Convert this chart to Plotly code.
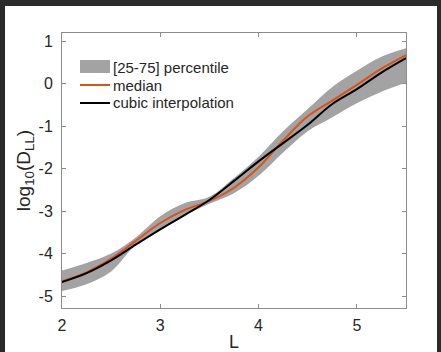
import plotly.graph_objects as go

# ---- data ----
L_vals = [2.0, 2.25, 2.5, 2.75, 3.0, 3.25, 3.5, 3.75, 4.0, 4.25, 4.5, 4.75, 5.0, 5.25, 5.5]
cubic = [-4.67, -4.46, -4.16, -3.79, -3.43, -3.09, -2.74, -2.29, -1.83, -1.40, -0.97, -0.48, -0.13, 0.26, 0.60]
median = [-4.65, -4.44, -4.12, -3.70, -3.28, -2.97, -2.76, -2.45, -1.97, -1.34, -0.77, -0.40, -0.03, 0.35, 0.67]
p75 = [-4.40, -4.22, -4.00, -3.62, -3.12, -2.81, -2.66, -2.22, -1.72, -1.12, -0.60, -0.08, 0.30, 0.63, 0.83]
p25 = [-4.88, -4.72, -4.42, -3.80, -3.45, -3.10, -2.83, -2.58, -2.17, -1.62, -1.12, -0.79, -0.46, -0.19, 0.02]

x_ticks = [2, 3, 4, 5]
x_ticklabels = ["2", "3", "4", "5"]
y_ticks = [-5, -4, -3, -2, -1, 0, 1]
y_ticklabels = ["-5", "-4", "-3", "-2", "-1", "0", "1"]
legend_labels = ["[25-75] percentile", "median", "cubic interpolation"]

BAND = "#a3a3a3"
ORANGE = "#D95319"
BLACK = "#000000"
AXIS = "#8c8c8c"
TXT = "#262626"
FONT = "Liberation Sans, Arial, sans-serif"

fig = go.Figure()
fig.add_trace(go.Scatter(x=L_vals, y=p25, mode="lines", line=dict(width=0, shape="spline", color=BAND),
                         showlegend=False, hoverinfo="skip"))
fig.add_trace(go.Scatter(x=L_vals, y=p75, mode="lines", line=dict(width=0, shape="spline", color=BAND),
                         fill="tonexty", fillcolor=BAND, showlegend=False, hoverinfo="skip"))
fig.add_trace(go.Scatter(x=L_vals, y=median, mode="lines", line=dict(width=2, shape="spline", color=ORANGE),
                         showlegend=False))
fig.add_trace(go.Scatter(x=L_vals, y=cubic, mode="lines", line=dict(width=2, shape="spline", color=BLACK),
                         showlegend=False))

# plot area: left 62, right 406, top 33, bottom 308 (441x352)
W, H = 441, 352
ml, mr, mt, mb = 62, 35, 33, 44
pw, ph = W - ml - mr, H - mt - mb

def px(x):
    return (x - ml) / pw

def py(y):
    return (H - mb - y) / ph

shapes = [
    # white page over dark border
    dict(type="rect", xref="paper", yref="paper", x0=px(5), x1=px(437), y0=py(370), y1=py(6),
         fillcolor="white", line=dict(width=0), layer="below"),
    # legend symbols
    dict(type="rect", xref="paper", yref="paper", x0=px(80), x1=px(110), y0=py(73), y1=py(60),
         fillcolor=BAND, line=dict(width=0)),
    dict(type="line", xref="paper", yref="paper", x0=px(80), x1=px(110), y0=py(85), y1=py(85),
         line=dict(color=ORANGE, width=2)),
    dict(type="line", xref="paper", yref="paper", x0=px(80), x1=px(110), y0=py(103), y1=py(103),
         line=dict(color=BLACK, width=2)),
]
annotations = []
for lab, yy in zip(legend_labels, [67, 85, 103]):
    annotations.append(dict(text=lab, xref="paper", yref="paper", x=px(111), y=py(yy),
                            xanchor="left", yanchor="middle", showarrow=False,
                            font=dict(family=FONT, size=15, color=TXT)))

fig.update_layout(
    width=W, height=H,
    margin=dict(l=ml, r=mr, t=mt, b=mb),
    paper_bgcolor="#2b2b2b",
    plot_bgcolor="white",
    shapes=shapes,
    annotations=annotations,
    font=dict(family=FONT, color=TXT),
    xaxis=dict(range=[2, 5.5], tickvals=x_ticks, ticktext=x_ticklabels, ticks="inside", ticklen=4,
               tickcolor=AXIS, showline=True, linecolor=AXIS, linewidth=1, mirror="ticks",
               showgrid=False, zeroline=False,
               tickfont=dict(size=16, color=TXT), ticklabelstandoff=3, automargin=False,
               title=dict(text="L", font=dict(size=18, color=TXT), standoff=20)),
    yaxis=dict(range=[-5.28, 1.19], tickvals=y_ticks, ticktext=y_ticklabels, ticks="inside", ticklen=4,
               tickcolor=AXIS, showline=True, linecolor=AXIS, linewidth=1, mirror="ticks",
               showgrid=False, zeroline=False,
               tickfont=dict(size=16, color=TXT), ticklabelstandoff=5, automargin=False,
               title=dict(text="log<sub>10</sub>(D<sub>LL</sub>)", font=dict(size=19, color=TXT), standoff=2)),
)

fig.write_html("out.html")
